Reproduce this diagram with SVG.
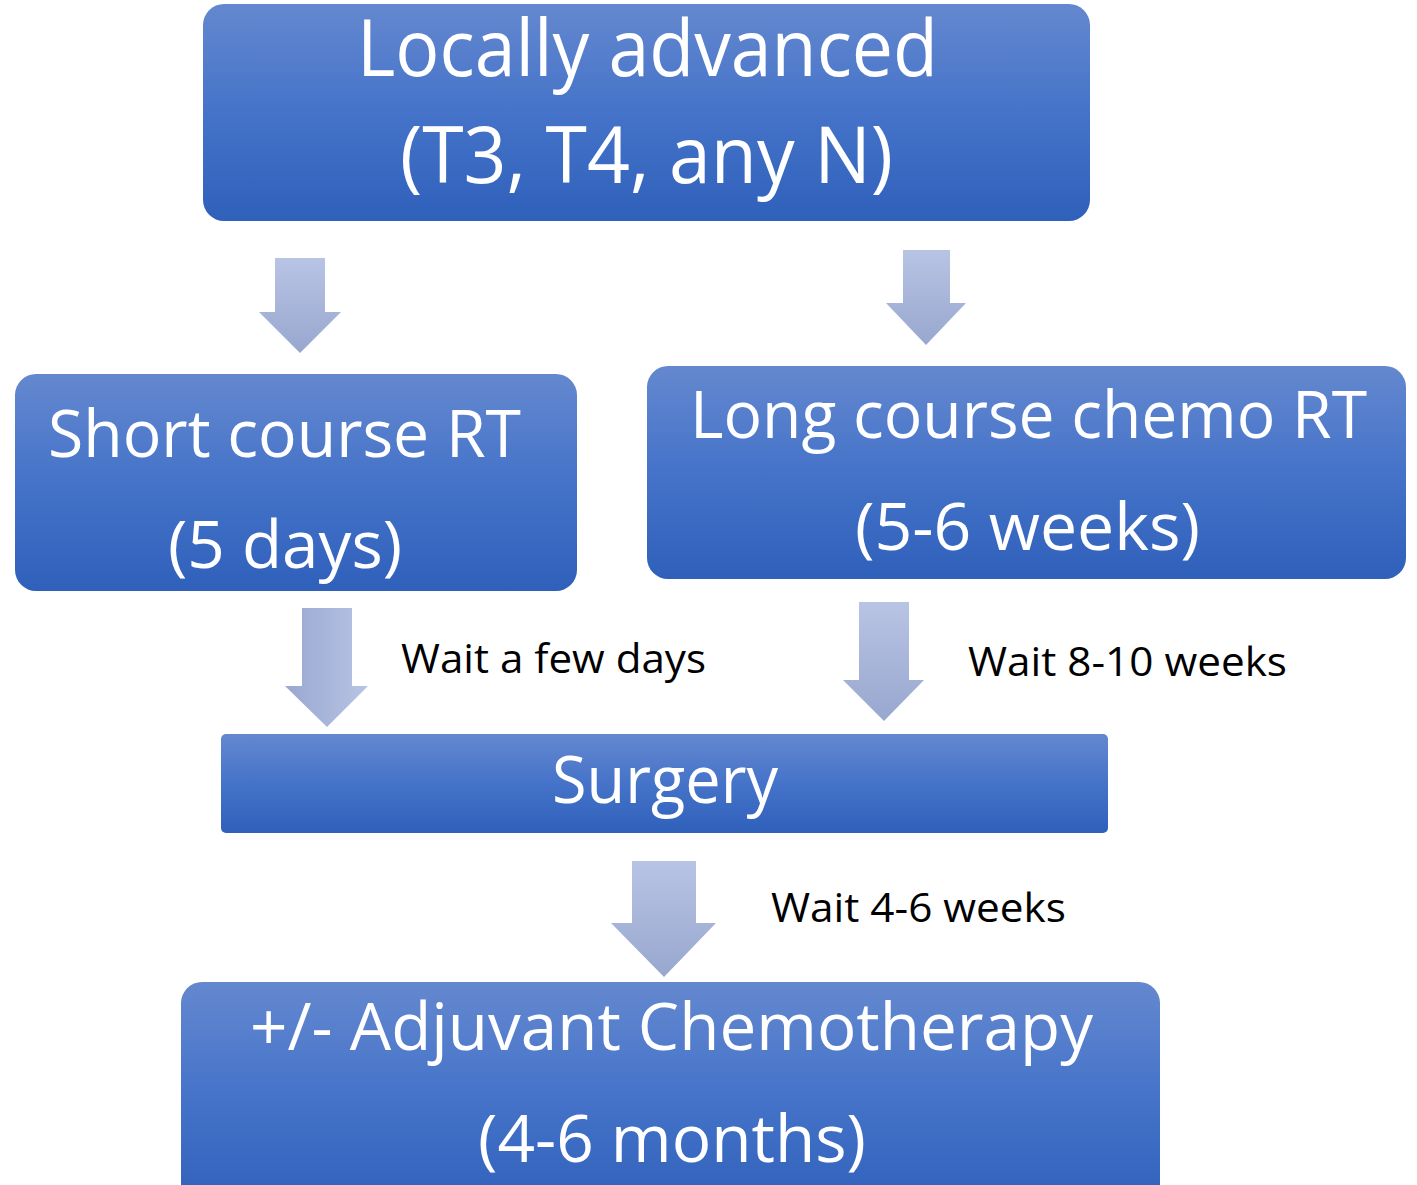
<svg xmlns="http://www.w3.org/2000/svg" width="1417" height="1185" viewBox="0 0 1417 1185">
<defs>
<linearGradient id="boxg" x1="0" y1="0" x2="0" y2="1">
<stop offset="0" stop-color="#6488cf"/>
<stop offset="0.5" stop-color="#4573c9"/>
<stop offset="1" stop-color="#2f60ba"/>
</linearGradient>
<linearGradient id="arrg" x1="0" y1="0" x2="0" y2="1">
<stop offset="0" stop-color="#b8c4e4"/>
<stop offset="1" stop-color="#98a7cf"/>
</linearGradient>
<linearGradient id="arrh" x1="0" y1="0" x2="1" y2="0">
<stop offset="0" stop-color="#99a7d1"/>
<stop offset="1" stop-color="#b8c4e4"/>
</linearGradient>
<style>
.box{fill:url(#boxg);}
.big{font-family:"Open Sans","Liberation Sans",sans-serif;fill:#ffffff;}
.lbl{font-family:"Open Sans","Liberation Sans",sans-serif;fill:#000000;font-size:40px;}
.arr{fill:url(#arrg);}
</style>
</defs>
<g id="connectors">
<polygon class="arr" points="275,258 325,258 325,312 341,312 300,353 259,312 275,312"/>
<polygon class="arr" points="903,250 950,250 950,303 966,303 926,345 886,303 903,303"/>
<polygon fill="url(#arrh)" points="302,608 352,608 352,686 368,686 327,727 285,686 302,686"/>
<polygon class="arr" points="859,602 909,602 909,680 924,680 884,721 843,680 859,680"/>
<polygon class="arr" points="632,861 696,861 696,923 716,923 664,977 611,923 632,923"/>
<text class="lbl" x="401" y="673" textLength="305" lengthAdjust="spacingAndGlyphs">Wait a few days</text>
<text class="lbl" x="968" y="676" textLength="319" lengthAdjust="spacingAndGlyphs">Wait 8-10 weeks</text>
<text class="lbl" x="771" y="922" textLength="295" lengthAdjust="spacingAndGlyphs">Wait 4-6 weeks</text>
</g>
<g id="node-locally-advanced">
<rect class="box" x="203" y="4" width="887" height="217" rx="21"/>
<text class="big" font-size="78" x="357" y="76" textLength="581" lengthAdjust="spacingAndGlyphs">Locally advanced</text>
<text class="big" font-size="78" x="400" y="183" textLength="493" lengthAdjust="spacingAndGlyphs">(T3, T4, any N)</text>
</g>
<g id="node-short-course">
<rect class="box" x="15" y="374" width="562" height="217" rx="21"/>
<text class="big" font-size="66" x="48" y="457" textLength="473" lengthAdjust="spacingAndGlyphs">Short course RT</text>
<text class="big" font-size="66" x="168" y="568" textLength="234" lengthAdjust="spacingAndGlyphs">(5 days)</text>
</g>
<g id="node-long-course">
<rect class="box" x="647" y="366" width="759" height="213" rx="21"/>
<text class="big" font-size="66" x="690" y="438" textLength="677" lengthAdjust="spacingAndGlyphs">Long course chemo RT</text>
<text class="big" font-size="66" x="855" y="550" textLength="345" lengthAdjust="spacingAndGlyphs">(5-6 weeks)</text>
</g>
<g id="node-surgery">
<rect class="box" x="221" y="734" width="887" height="99" rx="5"/>
<text class="big" font-size="66" x="552" y="803" textLength="226" lengthAdjust="spacingAndGlyphs">Surgery</text>
</g>
<g id="node-adjuvant">
<rect class="box" x="181" y="982" width="979" height="230" rx="21"/>
<text class="big" font-size="66" x="250" y="1050" textLength="843" lengthAdjust="spacingAndGlyphs">+/- Adjuvant Chemotherapy</text>
<text class="big" font-size="66" x="478" y="1162" textLength="388" lengthAdjust="spacingAndGlyphs">(4-6 months)</text>
</g>
</svg>
